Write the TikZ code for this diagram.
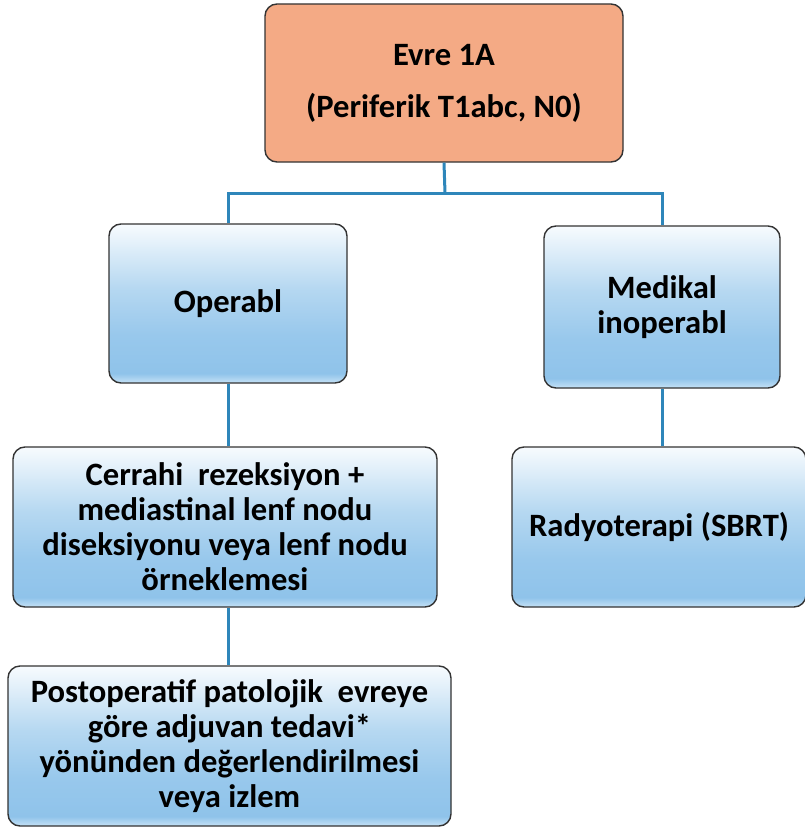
\documentclass[tikz,border=0pt]{standalone}
\usepackage{fontspec}
\setmainfont{Carlito}

\definecolor{stagefill}{HTML}{F4AA85}
\definecolor{boxedge}{HTML}{333333}
\definecolor{linkblue}{HTML}{2E86BA}
\definecolor{btop}{HTML}{F7FBFE}
\definecolor{bmid}{HTML}{B6D8F1}
\definecolor{bmain}{HTML}{98C8EC}
\definecolor{bdeep}{HTML}{8FC3EA}
\definecolor{bbot}{HTML}{C6E2F6}

% light-to-blue vertical gradient of the option boxes
\pgfdeclareverticalshading{bluebox}{100bp}{%
  color(0bp)=(bbot); color(25bp)=(bbot); color(28bp)=(bdeep);
  color(40bp)=(bmain); color(55bp)=(bmid); color(75bp)=(btop);
  color(100bp)=(btop)}

\tikzset{
  x=1pt, y=-1pt,
  basebox/.style={draw=boxedge, line width=1.4pt, rounded corners=12pt,
    align=center, inner sep=0pt,
    font=\fontsize{32.6}{35}\selectfont\bfseries},
  stagebox/.style={basebox, fill=stagefill},
  optbox/.style={basebox, shading=bluebox},
  conn/.style={draw=linkblue, line width=3pt},
}

\begin{document}
\begin{tikzpicture}
\useasboundingbox (0,0) rectangle (804,832);

\coordinate (bus) at (445,193);

\node[stagebox, minimum width=358pt, minimum height=158pt] (stage) at (444,83)
  {Evre 1A\\[17pt](Periferik T1abc, N0)};

\node[optbox, minimum width=238pt, minimum height=159pt] (op) at (228,303.5)
  {Operabl};
\node[optbox, minimum width=236pt, minimum height=162pt] (med) at (662,307)
  {Medikal\\inoperabl};
\node[optbox, minimum width=424pt, minimum height=160pt] (surg) at (225,527)
  {Cerrahi\ \ rezeksiyon +\\mediastinal lenf nodu\\diseksiyonu veya lenf nodu\\örneklemesi};
\node[optbox, minimum width=294pt, minimum height=160pt] (rt) at (659,527)
  {Radyoterapi (SBRT)};
\node[optbox, minimum width=443pt, minimum height=160pt] (post) at (229.5,746)
  {Postoperatif patolojik\ \ evreye\\göre adjuvan tedavi*\\yönünden değerlendirilmesi\\veya izlem};

% tree connectors
\draw[conn] (stage.south) -- (bus);
\draw[conn] (op.north) |- (bus) -| (med.north);
\draw[conn] (op.south) -- (surg.north -| op.south);
\draw[conn] (med.south) -- (rt.north -| med.south);
\draw[conn] (surg.south -| op.south) -- (post.north -| op.south);
\end{tikzpicture}
\end{document}
